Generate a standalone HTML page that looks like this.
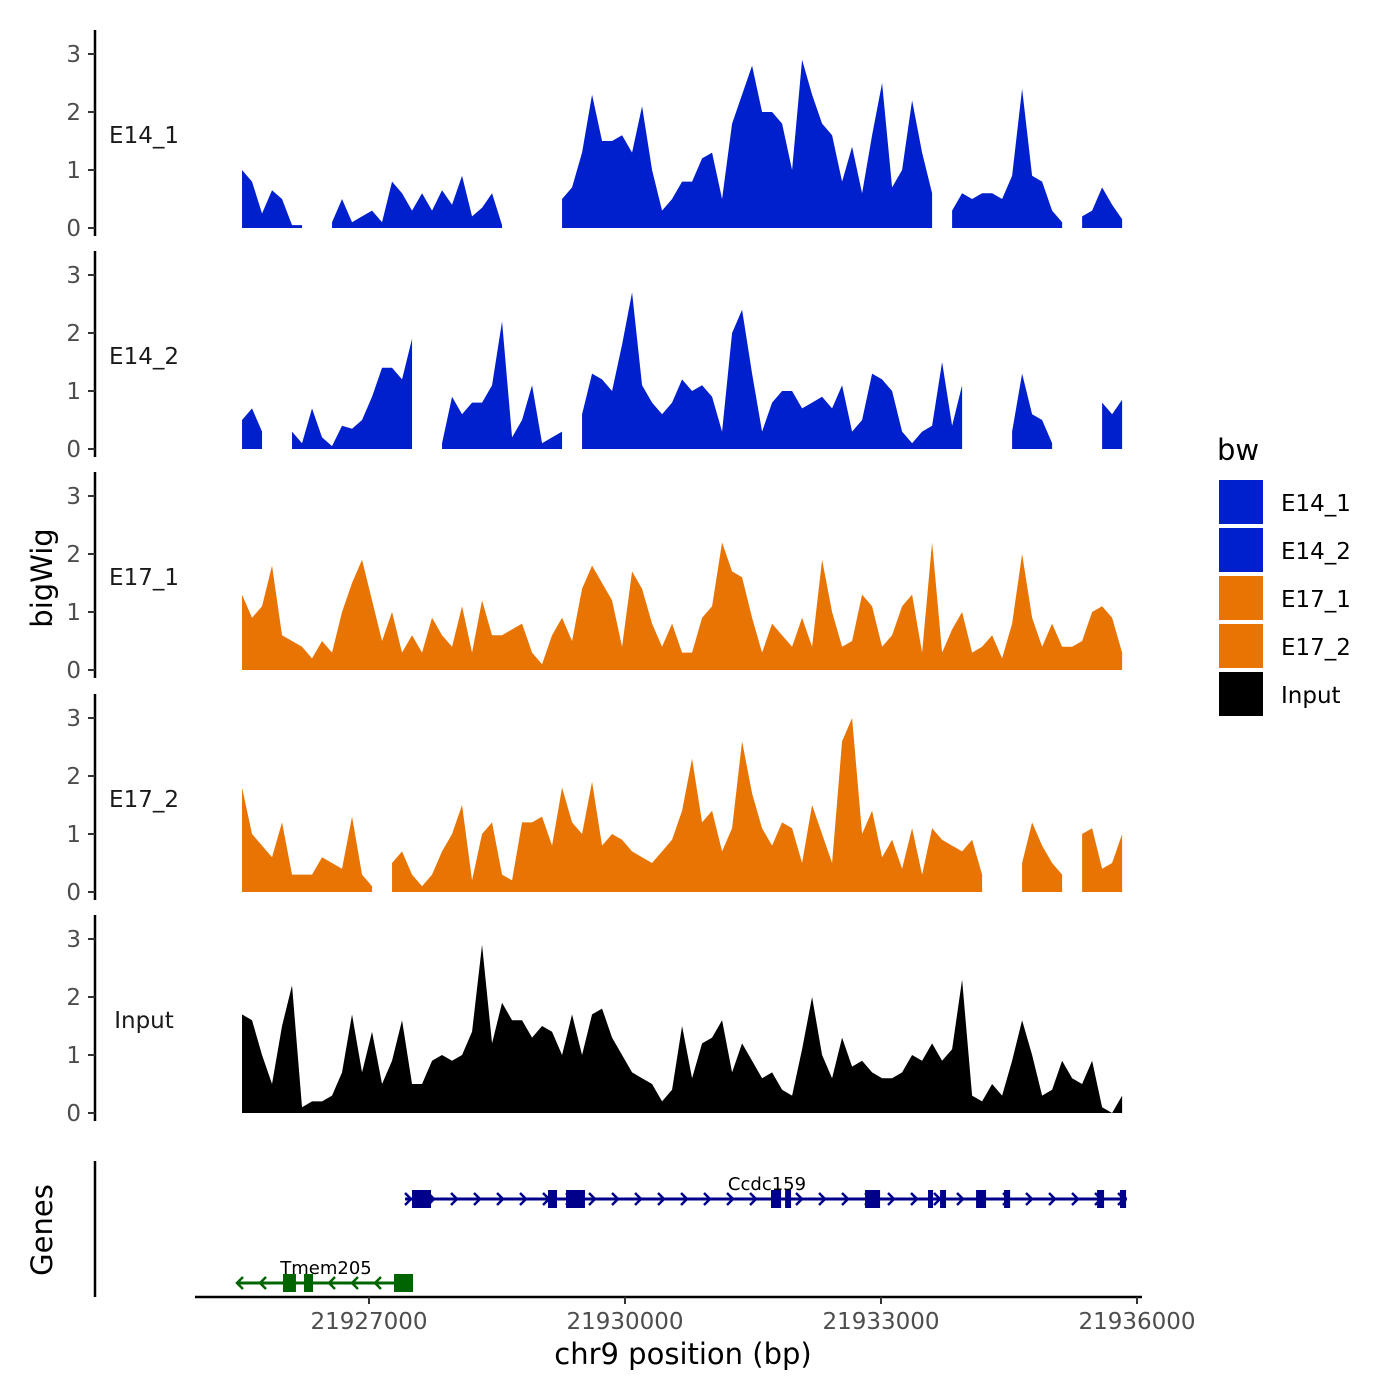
<!DOCTYPE html>
<html><head><meta charset="utf-8"><style>
html,body{margin:0;padding:0;background:#fff;}
svg{display:block;font-family:"DejaVu Sans","Liberation Sans",sans-serif;}
</style></head><body>
<svg id="chart" width="1400" height="1400" viewBox="0 0 1400 1400">
<g id="tracks"></g>
<g id="genes"></g>
<g id="xaxis"></g>
<text x="52" y="578" font-size="29" text-anchor="middle" transform="rotate(-90 52 578)">bigWig</text>
<text x="52" y="1230" font-size="29" text-anchor="middle" transform="rotate(-90 52 1230)">Genes</text>
<text x="683" y="1364" font-size="29" text-anchor="middle">chr9 position (bp)</text>
<g id="legend"></g>
</svg>
<script>
const trackNames = ["E14_1","E14_2","E17_1","E17_2","Input"];
const trackColors = ["#0020CE","#0020CE","#E87503","#E87503","#000000"];
const binStart = 21925512;
const binSize = 117.2;
const e14_1 = [1.0,0.8,0.25,0.65,0.5,0.05,0.05,null,null,0.1,0.5,0.1,0.2,0.3,0.1,0.8,0.6,0.3,0.6,0.3,0.65,0.4,0.9,0.2,0.35,0.6,0.05,null,0.1,null,null,null,0.5,0.7,1.3,2.3,1.5,1.5,1.6,1.3,2.1,1.0,0.3,0.5,0.8,0.8,1.2,1.3,0.5,1.8,2.3,2.8,2.0,2.0,1.8,1.0,2.9,2.3,1.8,1.6,0.8,1.4,0.6,1.6,2.5,0.7,1.0,2.2,1.3,0.6,null,0.3,0.6,0.5,0.6,0.6,0.5,0.9,2.4,0.9,0.8,0.3,0.1,null,0.2,0.3,0.7,0.4,0.15];
const e14_2 = [0.5,0.7,0.3,null,null,0.3,0.1,0.7,0.2,0.05,0.4,0.35,0.5,0.9,1.4,1.4,1.2,1.9,null,null,0.1,0.9,0.6,0.8,0.8,1.1,2.2,0.2,0.5,1.1,0.1,0.2,0.3,null,0.6,1.3,1.2,1.0,1.8,2.7,1.1,0.8,0.6,0.8,1.2,1.0,1.1,0.9,0.3,2.0,2.4,1.3,0.3,0.8,1.0,1.0,0.7,0.8,0.9,0.7,1.1,0.3,0.5,1.3,1.2,1.0,0.3,0.1,0.3,0.4,1.5,0.4,1.1,null,0.2,null,null,0.3,1.3,0.6,0.5,0.1,null,0.4,null,null,0.8,0.6,0.85];
const e17_1 = [1.3,0.9,1.1,1.8,0.6,0.5,0.4,0.2,0.5,0.3,1.0,1.5,1.9,1.2,0.5,1.0,0.3,0.6,0.3,0.9,0.6,0.4,1.1,0.3,1.2,0.6,0.6,0.7,0.8,0.3,0.1,0.6,0.9,0.5,1.4,1.8,1.5,1.2,0.4,1.7,1.4,0.8,0.4,0.8,0.3,0.3,0.9,1.1,2.2,1.7,1.6,0.9,0.3,0.8,0.6,0.4,0.9,0.4,1.9,1.0,0.4,0.5,1.3,1.1,0.4,0.6,1.1,1.3,0.3,2.2,0.3,0.7,1.0,0.3,0.4,0.6,0.2,0.8,2.0,0.9,0.4,0.8,0.4,0.4,0.5,1.0,1.1,0.9,0.3];
const e17_2 = [1.8,1.0,0.8,0.6,1.2,0.3,0.3,0.3,0.6,0.5,0.4,1.3,0.3,0.1,null,0.5,0.7,0.3,0.1,0.3,0.7,1.0,1.5,0.2,1.0,1.2,0.3,0.2,1.2,1.2,1.3,0.8,1.8,1.2,1.0,1.9,0.8,1.0,0.9,0.7,0.6,0.5,0.7,0.9,1.4,2.3,1.2,1.4,0.7,1.1,2.6,1.7,1.1,0.8,1.2,1.1,0.5,1.5,1.0,0.5,2.6,3.0,1.0,1.4,0.6,0.9,0.4,1.1,0.3,1.1,0.9,0.8,0.7,0.9,0.3,null,0.2,null,0.5,1.2,0.8,0.5,0.3,null,1.0,1.1,0.4,0.5,1.0];
const input = [1.7,1.6,1.0,0.5,1.5,2.2,0.1,0.2,0.2,0.3,0.7,1.7,0.7,1.4,0.5,0.9,1.6,0.5,0.5,0.9,1.0,0.9,1.0,1.4,2.9,1.2,1.9,1.6,1.6,1.3,1.5,1.4,1.0,1.7,1.0,1.7,1.8,1.3,1.0,0.7,0.6,0.5,0.2,0.4,1.5,0.6,1.2,1.3,1.6,0.7,1.2,0.9,0.6,0.7,0.4,0.3,1.1,2.0,1.0,0.6,1.3,0.8,0.9,0.7,0.6,0.6,0.7,1.0,0.9,1.2,0.9,1.1,2.3,0.3,0.2,0.5,0.3,0.9,1.6,1.0,0.3,0.4,0.9,0.6,0.5,0.9,0.1,0.0,0.3];
const yTicks = [0,1,2,3];
const xTicks = [21927000,21930000,21933000,21936000];
const xTickLabels = ["21927000","21930000","21933000","21936000"];
const ccdcExons = [[21927504,21927727],[21929098,21929203],[21929309,21929531],[21931711,21931829],[21931876,21931946],[21932813,21932989],[21933551,21933610],[21933692,21933762],[21934114,21934231],[21934442,21934513],[21935532,21935614],[21935801,21935872]];
const ccdcRange = [21927422,21935883];
const tmemExons = [[21925992,21926144],[21926238,21926344],[21927293,21927516]];
const tmemRange = [21925453,21927516];

const series = [e14_1,e14_2,e17_1,e17_2,input];
const NS="http://www.w3.org/2000/svg";
function mk(tag,attrs,parent){const e=document.createElementNS(NS,tag);for(const k in attrs)e.setAttribute(k,attrs[k]);parent.appendChild(e);return e;}
function xs(bp){return 369+(bp-21927000)*256/3000;}
const zeroY=[228,449,670,892,1113];
function ys(p,v){return zeroY[p]-v*58;}
const tracks=document.getElementById('tracks');
series.forEach((vals,p)=>{
  const g=mk('g',{},tracks);
  
  
  const ax=mk('line',{x1:95,x2:95,y1:zeroY[p]-198,y2:zeroY[p]+8,stroke:'#000','stroke-width':2.5},g);
  
  
  yTicks.forEach(t=>{
    const tl=mk('line',{x1:88,x2:95,y1:ys(p,t),y2:ys(p,t),stroke:'#333','stroke-width':2},g);
    
    
    const tx=mk('text',{x:81,y:ys(p,t)+8,'font-size':23,fill:'#4d4d4d','text-anchor':'end'},g);
    tx.textContent=t;
    
    
  });
  const lab=mk('text',{x:144,y:zeroY[p]-85,'font-size':23,fill:'#1a1a1a','text-anchor':'middle'},g);
  lab.textContent=trackNames[p];
  
  
  let seg=[];
  const flush=()=>{
    if(seg.length>=2){
      let d='M'+seg[0][0]+','+zeroY[p];
      seg.forEach(s=>d+='L'+s[0]+','+s[1]);
      d+='L'+seg[seg.length-1][0]+','+zeroY[p]+'Z';
      const a=mk('path',{d:d,fill:trackColors[p]},g);
      
      
    }
    seg=[];
  };
  vals.forEach((v,i)=>{
    if(v===null){flush();return;}
    seg.push([xs(binStart+i*binSize),ys(p,v)]);
  });
  flush();
});
const genes=document.getElementById('genes');
const gax=mk('line',{x1:95,x2:95,y1:1161,y2:1297,stroke:'#000','stroke-width':2.5},genes);


function drawGene(range,exons,y,color,dir,name,lx){
  const g=mk('g',{},genes);
  
  
  mk('line',{x1:xs(range[0]),x2:xs(range[1]),y1:y,y2:y,stroke:color,'stroke-width':3},g);
  for(let x=xs(range[0])+3;x<xs(range[1])-2;x+=23){
    const d=dir>0?`M${x-3},${y-6}L${x+3},${y}L${x-3},${y+6}`:`M${x+3},${y-6}L${x-3},${y}L${x+3},${y+6}`;
    mk('path',{d:d,stroke:color,'stroke-width':2.5,fill:'none'},g);
  }
  exons.forEach(e=>{
    const r=mk('rect',{x:xs(e[0]),y:y-9,width:Math.max(4,xs(e[1])-xs(e[0])),height:18,fill:color},g);
    
    
  });
  const t=mk('text',{x:lx,y:y-9,'font-size':18,'text-anchor':'middle',fill:'#000'},g);
  t.textContent=name;
  
  
}
drawGene(ccdcRange,ccdcExons,1199,'#00008B',1,'Ccdc159',767);
drawGene(tmemRange,tmemExons,1283,'#006400',-1,'Tmem205',326);
const xa=document.getElementById('xaxis');
const xl=mk('line',{x1:195,x2:1142,y1:1297,y2:1297,stroke:'#000','stroke-width':2.5},xa);


xTicks.forEach((t,i)=>{
  const tl=mk('line',{x1:xs(t),x2:xs(t),y1:1297,y2:1304,stroke:'#333','stroke-width':2},xa);
  
  
  const tx=mk('text',{x:xs(t),y:1329,'font-size':23,fill:'#4d4d4d','text-anchor':'middle'},xa);
  tx.textContent=xTickLabels[i];
  
  
});
const lg=document.getElementById('legend');
const lt=mk('text',{x:1217,y:460,'font-size':29,fill:'#000'},lg);
lt.textContent='bw';


trackNames.forEach((n,i)=>{
  const g=mk('g',{},lg);
  
  
  mk('rect',{x:1219,y:480+i*48,width:44,height:44,fill:trackColors[i]},g);
  const t=mk('text',{x:1281,y:511+i*48,'font-size':23,fill:'#000'},g);
  t.textContent=n;
});
</script>
</body></html>
